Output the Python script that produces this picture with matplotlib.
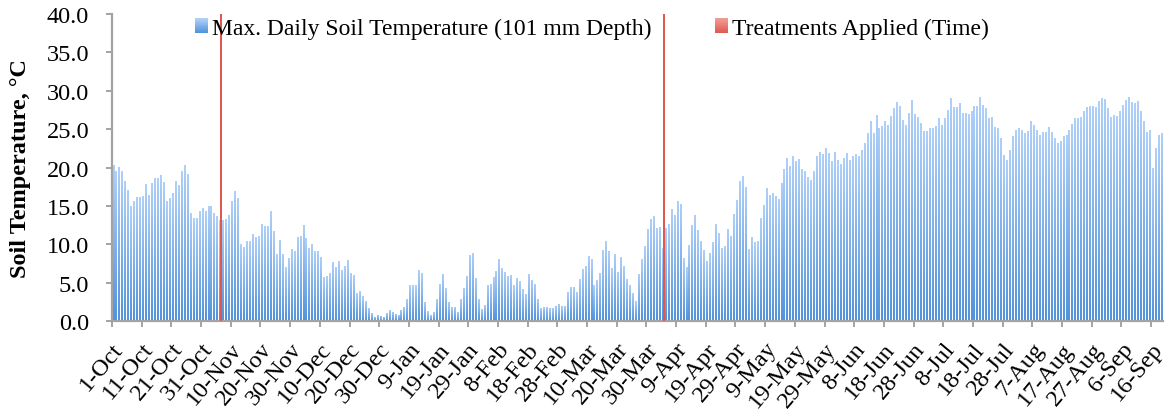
import numpy as np
import pandas as pd
import matplotlib
matplotlib.use("Agg")
import matplotlib.pyplot as plt
from matplotlib.colors import LinearSegmentedColormap, to_rgb
from matplotlib.patches import Rectangle
from matplotlib.legend_handler import HandlerBase
from matplotlib.transforms import ScaledTranslation

plt.rcParams["font.family"] = ["Liberation Serif", "DejaVu Serif"]

# Maximum daily soil temperature at 101 mm depth (deg C), one value per day
oct_vals = [20.3, 19.6, 20.1, 19.5, 18.3, 17.1, 15.0, 15.6, 16.2, 16.2,
            16.3, 17.9, 16.5, 18.0, 18.6, 18.7, 19.0, 18.1, 15.7, 16.0,
            16.7, 18.2, 17.8, 19.6, 20.3, 19.2, 14.1, 13.5, 13.5, 14.3, 14.7]
nov_vals = [14.3, 15.0, 15.0, 14.1, 13.7, 13.2, 13.2, 13.3, 13.9, 15.7,
            16.9, 16.0, 10.1, 9.7, 10.5, 10.5, 11.3, 11.0, 11.1, 12.7,
            12.4, 12.4, 14.3, 11.8, 8.7, 10.6, 8.8, 7.1, 8.3, 9.4]
dec_vals = [9.2, 11.0, 11.1, 12.6, 10.9, 9.6, 10.0, 9.2, 9.2, 8.4,
            5.8, 5.9, 6.3, 7.7, 7.1, 7.9, 6.7, 7.2, 8.0, 6.3,
            6.0, 3.7, 4.0, 3.3, 2.7, 1.7, 1.1, 0.6, 0.8, 0.7, 0.6]
jan_vals = [1.1, 1.5, 1.2, 1.0, 0.8, 1.5, 1.9, 2.9, 4.7, 4.7,
            4.7, 6.7, 6.3, 2.5, 1.3, 0.8, 1.2, 2.9, 4.9, 6.2,
            4.3, 2.5, 1.9, 1.9, 1.2, 2.9, 4.3, 5.9, 8.6, 8.9, 5.6]
feb_vals = [2.9, 1.6, 2.1, 4.7, 4.9, 5.8, 6.6, 8.1, 6.9, 6.4,
            5.9, 6.0, 4.7, 5.6, 5.3, 4.2, 3.6, 6.2, 5.4, 4.9,
            2.9, 1.7, 1.9, 1.9, 1.7, 1.7, 2.0, 2.3]
mar_vals = [2.0, 2.0, 3.8, 4.5, 4.5, 3.8, 5.5, 6.8, 7.2, 8.5,
            8.1, 4.7, 5.4, 6.3, 9.3, 10.5, 9.2, 6.9, 8.8, 6.4,
            8.4, 7.2, 5.5, 4.7, 3.7, 2.6, 6.2, 8.1, 9.8, 12.0, 13.3]
apr_vals = [13.7, 12.2, 12.3, 9.6, 12.2, 12.7, 14.6, 13.9, 15.7, 15.3,
            8.3, 7.1, 9.9, 12.5, 13.9, 11.9, 10.5, 9.3, 7.9, 8.9,
            10.3, 12.7, 11.5, 9.6, 9.8, 12.0, 11.1, 14.0, 15.8, 18.2]
may_vals = [18.9, 17.5, 9.4, 11.0, 10.3, 10.5, 13.5, 15.2, 17.4, 16.5,
            16.7, 16.3, 15.9, 18.0, 19.8, 21.3, 20.2, 21.5, 20.9, 21.1,
            19.8, 19.6, 18.8, 18.4, 19.5, 21.5, 22.1, 21.8, 22.6, 21.9, 20.9]
jun_vals = [22.1, 21.0, 20.5, 21.3, 21.9, 21.0, 21.5, 21.8, 21.5, 22.3,
            23.2, 24.5, 26.1, 24.5, 26.9, 25.2, 25.4, 26.1, 25.6, 26.7,
            27.8, 28.6, 28.0, 26.2, 25.6, 27.1, 28.8, 27.0, 26.6, 25.8]
jul_vals = [24.8, 24.8, 25.2, 25.2, 25.4, 26.4, 25.6, 26.5, 27.5, 29.1,
            27.9, 27.9, 28.4, 27.1, 27.1, 27.0, 27.4, 28.0, 28.0, 29.2,
            28.2, 27.7, 26.5, 26.6, 25.3, 25.2, 23.9, 21.7, 21.0, 22.3, 24.1]
aug_vals = [24.9, 25.1, 24.9, 24.5, 24.8, 26.1, 25.6, 24.9, 24.3, 24.7,
            24.7, 25.3, 24.7, 23.9, 23.2, 23.5, 24.1, 24.3, 24.9, 25.7,
            26.4, 26.5, 26.6, 27.4, 27.9, 28.0, 28.0, 27.9, 28.7, 29.1, 29.0]
sep_vals = [27.7, 26.6, 26.9, 26.7, 27.4, 28.2, 28.8, 29.2, 28.6, 28.4,
            28.7, 27.4, 26.1, 24.7, 24.9, 20.0, 22.6, 24.3, 24.5]

max_temp = np.array(oct_vals + nov_vals + dec_vals + jan_vals + feb_vals + mar_vals
                    + apr_vals + may_vals + jun_vals + jul_vals + aug_vals + sep_vals)

# Daily categories (non-leap season, 1 Oct onwards)
dates = pd.date_range("2010-10-01", periods=len(max_temp), freq="D")
day_labels = [f"{d.day}-{d.strftime('%b')}" for d in dates]

# Dates on which treatments were applied, drawn as full-height markers
treatment_dates = ["6-Nov", "4-Apr"]
treatment_height = 40.0

y_ticks = [0, 5, 10, 15, 20, 25, 30, 35, 40]
label_every = 10

series_name = "Max. Daily Soil Temperature (101 mm Depth)"
treat_name = "Treatments Applied (Time)"
y_title = "Soil Temperature, °C"

# ---------------------------------------------------------------- styling
bar_top = "#afd0f8"
bar_bottom = "#5393db"
red_line = "#e0574f"
red_top = "#f29a94"
red_bottom = "#df5a53"
axis_grey = "#a3a3a3"

blue_cmap = LinearSegmentedColormap.from_list("soil_blue", [bar_bottom, bar_top])

fig = plt.figure(figsize=(11.66, 4.14), dpi=100)
ax = fig.add_axes([112 / 1166, (414 - 322.3) / 414, 1051 / 1166, 307.3 / 414])

x = np.arange(len(max_temp))
bar_w = 0.66
bars = ax.bar(x, max_temp, width=bar_w, color=bar_bottom, linewidth=0, zorder=2)

# vertical gradient inside each bar, clipped to the bar outline
grad = np.linspace(0, 1, 64).reshape(-1, 1)
for b in bars:
    x0, h, w = b.get_x(), b.get_height(), b.get_width()
    im = ax.imshow(grad, extent=(x0 - 0.3, x0 + w + 0.3, 0, h), origin="lower",
                   cmap=blue_cmap, aspect="auto", interpolation="bilinear", zorder=2.1)
    im.set_clip_path(b)
    b.set_visible(False)

# treatment markers
treat_idx = [day_labels.index(d) for d in treatment_dates]
ax.bar(np.array(treat_idx) + 0.3, [treatment_height] * len(treat_idx), width=0.62,
       color=red_line, linewidth=0, zorder=3)

ax.set_xlim(-0.5, len(max_temp) - 0.5)
ax.set_ylim(0, 40)

# axes styling
for side in ("top", "right"):
    ax.spines[side].set_visible(False)
for side in ("left", "bottom"):
    ax.spines[side].set_color(axis_grey)
    ax.spines[side].set_linewidth(1.6)

ax.set_yticks(y_ticks)
ax.set_yticklabels([f"{v:.1f}" for v in y_ticks])
ax.tick_params(axis="y", direction="out", length=4.5, width=1.4, color=axis_grey,
               labelsize=17.5, pad=12)

label_pos = x[::label_every]
ax.set_xticks(label_pos)
ax.set_xticklabels([day_labels[i] for i in label_pos], rotation=50, ha="right",
                   va="center", rotation_mode="anchor")
ax.set_xticks(np.arange(-0.5, len(max_temp) - 1, label_every), minor=True)
ax.tick_params(axis="x", which="major", length=0, labelsize=17.5, pad=17)
ax.tick_params(axis="x", which="minor", direction="out", length=4, width=1.4,
               color=axis_grey)
shift = ScaledTranslation(6 / 100, 0, fig.dpi_scale_trans)
for lab in ax.get_xticklabels():
    lab.set_transform(lab.get_transform() + shift)

ax.set_ylabel(y_title, fontsize=17.5, fontweight="bold")
ax.yaxis.set_label_coords(-0.077, 0.5)


class GradientSquare(HandlerBase):
    def __init__(self, top, bottom, steps=24):
        super().__init__()
        self.top, self.bottom, self.steps = to_rgb(top), to_rgb(bottom), steps

    def create_artists(self, legend, orig_handle, xdescent, ydescent, width, height,
                       fontsize, trans):
        arts = []
        side = height
        x0 = -xdescent
        y0 = -ydescent
        for k in range(self.steps):
            f = k / (self.steps - 1)
            c = tuple(self.bottom[i] + (self.top[i] - self.bottom[i]) * f for i in range(3))
            arts.append(Rectangle((x0, y0 + side * k / self.steps), width,
                                  side / self.steps + 0.3, facecolor=c, edgecolor="none",
                                  transform=trans))
        return arts


h_blue = Rectangle((0, 0), 1, 1)
h_red = Rectangle((0, 0), 1, 1)
fig.legend([h_blue, h_red], [series_name, treat_name], loc="center left",
           bbox_to_anchor=(195 / 1166, 1 - 29.5 / 414), ncol=2, frameon=False,
           fontsize=17, handlelength=0.54, handleheight=0.54, handletextpad=0.17,
           columnspacing=2.7, borderpad=0, borderaxespad=0,
           handler_map={h_blue: GradientSquare(bar_top, bar_bottom),
                        h_red: GradientSquare(red_top, red_bottom)})

fig.savefig("out.png", dpi=100)
